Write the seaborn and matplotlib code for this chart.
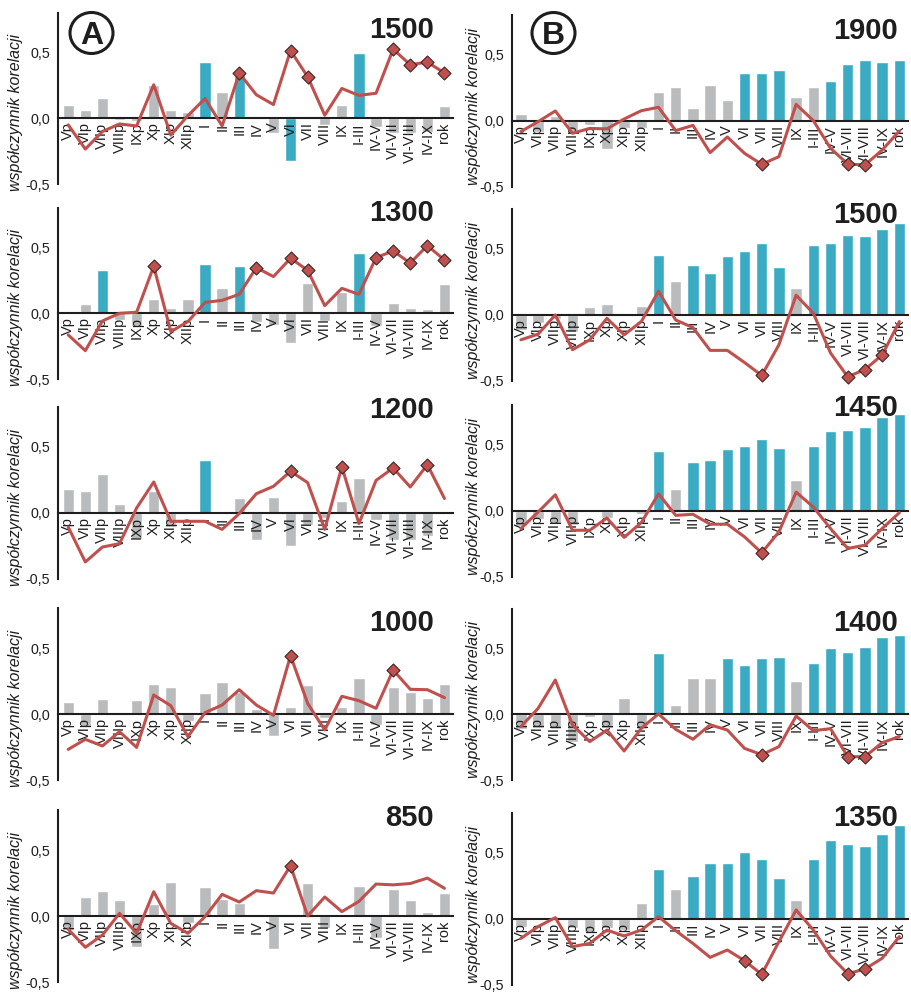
import numpy as np
import pandas as pd
import matplotlib
matplotlib.use("Agg")
import matplotlib.pyplot as plt
import seaborn as sns
from matplotlib.patches import Ellipse

sns.set_style("white")
plt.rcParams['font.family'] = ['Liberation Sans', 'DejaVu Sans']

categories = ["Vp", "VIp", "VIIp", "VIIIp", "IXp", "Xp", "XIp", "XIIp", "I", "II", "III",
              "IV", "V", "VI", "VII", "VIII", "IX", "I-III", "IV-V", "VI-VII", "VI-VIII",
              "IV-IX", "rok"]

# ---------------- column A ----------------
titles_A = ["1500", "1300", "1200", "1000", "850"]

bars_A1500 = [0.10, 0.063, 0.157, -0.01, -0.02, 0.254, 0.063, 0.05, 0.43, 0.203, 0.34,
              0.013, -0.114, -0.322, 0.02, -0.05, 0.10, 0.495, -0.063, -0.11, -0.11, -0.105, 0.094]
line_A1500 = [-0.05, -0.233, -0.10, -0.043, -0.058, 0.254, -0.127, 0.02, 0.15, -0.058, 0.343,
              0.178, 0.104, 0.513, 0.315, 0.023, 0.226, 0.173, 0.19, 0.523, 0.406, 0.426, 0.343]
sigbar_A1500 = ["I", "III", "VI", "I-III"]
sigline_A1500 = ["III", "VI", "VII", "VI-VII", "VI-VIII", "IV-IX", "rok"]

bars_A1300 = [0.0, 0.07, 0.331, -0.05, -0.096, 0.111, 0.04, 0.111, 0.371, 0.192, 0.361,
              -0.063, -0.088, -0.222, 0.227, -0.058, 0.159, 0.46, -0.10, 0.081, 0.04, 0.033, 0.22]
line_A1300 = [-0.164, -0.283, -0.058, 0.0, 0.008, 0.356, -0.139, -0.063, 0.083, 0.098, 0.144,
              0.346, 0.278, 0.417, 0.326, 0.058, 0.189, 0.144, 0.422, 0.472, 0.381, 0.513, 0.404]
sigbar_A1300 = ["VIIp", "I", "III", "I-III"]
sigline_A1300 = ["Xp", "IV", "VI", "VII", "IV-V", "VI-VII", "VI-VIII", "IV-IX", "rok"]

bars_A1200 = [0.179, 0.164, 0.295, 0.071, -0.20, 0.169, -0.106, 0.0, 0.40, 0.0, 0.111,
              -0.207, 0.119, -0.253, -0.093, -0.04, 0.088, 0.265, -0.056, -0.207, -0.207, -0.174, 0.0]
line_A1200 = [-0.106, -0.371, -0.258, -0.232, 0.038, 0.235, -0.063, -0.063, -0.063, -0.124, -0.005,
              0.146, 0.202, 0.316, 0.23, -0.124, 0.351, -0.08, 0.247, 0.341, 0.197, 0.366, 0.11]
sigbar_A1200 = ["I"]
sigline_A1200 = ["VI", "IX", "VI-VII", "IV-IX"]

bars_A1000 = [0.093, -0.096, 0.114, 0.013, 0.106, 0.23, 0.205, -0.05, 0.162, 0.24, 0.17,
              0.04, -0.164, 0.05, 0.217, -0.033, 0.053, 0.27, -0.083, 0.205, 0.167, 0.121, 0.225]
line_A1000 = [-0.268, -0.192, -0.242, -0.134, -0.253, 0.144, 0.063, -0.172, 0.01, 0.068, 0.184,
              0.068, -0.01, 0.442, 0.081, -0.121, 0.134, 0.101, 0.043, 0.333, 0.187, 0.184, 0.124]
sigbar_A1000 = []
sigline_A1000 = ["VI", "VI-VII"]

bars_A850 = [-0.106, 0.146, 0.187, 0.121, -0.232, 0.09, 0.258, -0.05, 0.217, 0.13, 0.096,
             0.0, -0.25, 0.0, 0.25, -0.088, 0.015, 0.227, -0.169, 0.205, 0.121, 0.03, 0.172]
line_A850 = [-0.10, -0.237, -0.144, 0.02, -0.131, 0.184, -0.056, -0.131, -0.005, 0.164, 0.106,
             0.192, 0.174, 0.381, 0.0, 0.144, 0.033, 0.111, 0.242, 0.236, 0.246, 0.287, 0.21]
sigbar_A850 = []
sigline_A850 = ["VI"]

# ---------------- column B ----------------
titles_B = ["1900", "1500", "1450", "1400", "1350"]

bars_B1900 = [0.05, -0.08, 0.04, -0.093, -0.03, -0.212, -0.056, -0.05, 0.222, 0.26, 0.096,
              0.27, 0.159, 0.366, 0.361, 0.386, 0.182, 0.255, 0.306, 0.432, 0.462, 0.447, 0.462]
line_B1900 = [-0.08, -0.005, 0.076, -0.093, -0.056, -0.06, 0.015, 0.078, 0.104, -0.073, -0.033,
              -0.24, -0.121, -0.245, -0.328, -0.27, 0.126, 0.003, -0.207, -0.326, -0.333, -0.22, -0.076]
sigbar_B1900 = ["VI", "VII", "VIII", "IV-V", "VI-VII", "VI-VIII", "IV-IX", "rok"]
sigline_B1900 = ["VII", "VI-VII", "VI-VIII"]

bars_B1500 = [-0.113, -0.063, -0.03, -0.125, 0.06, 0.085, 0.0, 0.07, 0.455, 0.255, 0.38,
              0.315, 0.45, 0.485, 0.545, 0.363, 0.205, 0.53, 0.543, 0.608, 0.598, 0.65, 0.70]
line_B1500 = [-0.188, -0.145, 0.0, -0.263, -0.188, -0.025, -0.15, -0.05, 0.18, -0.038, -0.095,
              -0.268, -0.268, -0.36, -0.458, -0.225, 0.15, 0.013, -0.288, -0.468, -0.413, -0.303, -0.05]
sigbar_B1500 = ["I", "III", "IV", "V", "VI", "VII", "VIII", "I-III", "IV-V", "VI-VII",
                "VI-VIII", "IV-IX", "rok"]
sigline_B1500 = ["VII", "VI-VII", "VI-VIII", "IV-IX"]

bars_B1450 = [-0.116, -0.058, -0.095, -0.108, 0.0, -0.05, 0.018, -0.02, 0.452, 0.168, 0.369,
              0.389, 0.47, 0.495, 0.543, 0.48, 0.234, 0.49, 0.608, 0.61, 0.638, 0.711, 0.734]
line_B1450 = [-0.133, -0.008, 0.123, -0.146, -0.146, -0.053, -0.20, -0.088, 0.13, -0.033, -0.025,
              -0.10, -0.10, -0.196, -0.317, -0.158, 0.143, 0.03, -0.133, -0.284, -0.259, -0.133, -0.013]
sigbar_B1450 = ["I", "III", "IV", "V", "VI", "VII", "VIII", "I-III", "IV-V", "VI-VII",
                "VI-VIII", "IV-IX", "rok"]
sigline_B1450 = ["VII"]

bars_B1400 = [-0.114, -0.106, -0.114, -0.207, -0.02, -0.106, 0.124, -0.114, 0.467, 0.071, 0.273,
              0.278, 0.427, 0.374, 0.429, 0.437, 0.255, 0.391, 0.50, 0.475, 0.513, 0.588, 0.60]
line_B1400 = [-0.093, 0.045, 0.26, -0.08, -0.207, -0.119, -0.278, -0.106, 0.003, -0.114, -0.189,
              -0.08, -0.119, -0.258, -0.306, -0.245, -0.013, -0.124, -0.109, -0.321, -0.321, -0.215, -0.169]
sigbar_B1400 = ["I", "V", "VI", "VII", "VIII", "I-III", "IV-V", "VI-VII", "VI-VIII", "IV-IX", "rok"]
sigline_B1400 = ["VII", "VI-VII", "VI-VIII"]

bars_B1350 = [-0.06, 0.008, 0.0, -0.068, -0.098, -0.068, -0.086, 0.121, 0.379, 0.222, 0.326,
              0.419, 0.419, 0.508, 0.452, 0.308, 0.141, 0.449, 0.593, 0.568, 0.548, 0.639, 0.707]
line_B1350 = [-0.149, -0.06, 0.008, -0.212, -0.187, -0.086, -0.131, -0.086, 0.015, -0.091, -0.187,
              -0.293, -0.237, -0.318, -0.422, -0.174, 0.066, -0.086, -0.283, -0.417, -0.381, -0.30, -0.136]
sigbar_B1350 = ["I", "III", "IV", "V", "VI", "VII", "VIII", "I-III", "IV-V", "VI-VII",
                "VI-VIII", "IV-IX", "rok"]
sigline_B1350 = ["VI", "VII", "VI-VII", "VI-VIII"]

panels_A = [(bars_A1500, line_A1500, sigbar_A1500, sigline_A1500),
            (bars_A1300, line_A1300, sigbar_A1300, sigline_A1300),
            (bars_A1200, line_A1200, sigbar_A1200, sigline_A1200),
            (bars_A1000, line_A1000, sigbar_A1000, sigline_A1000),
            (bars_A850, line_A850, sigbar_A850, sigline_A850)]
panels_B = [(bars_B1900, line_B1900, sigbar_B1900, sigline_B1900),
            (bars_B1500, line_B1500, sigbar_B1500, sigline_B1500),
            (bars_B1450, line_B1450, sigbar_B1450, sigline_B1450),
            (bars_B1400, line_B1400, sigbar_B1400, sigline_B1400),
            (bars_B1350, line_B1350, sigbar_B1350, sigline_B1350)]

# ---------------- style ----------------
TEAL = "#3aabc3"
GRAY = "#b9bbbc"
RED = "#c0504d"
INK = "#1e1e1e"

W, H = 911, 992
fig = plt.figure(figsize=(W / 100, H / 100), dpi=100)
S = 132.0  # px per unit of correlation

cols = [
    dict(left=58.3, width=394.7, xlim=(-0.58, 22.37), zeros=[118.3, 313.3, 513, 714, 916],
         panels=panels_A, titles=titles_A, title_x=434, title_top=[16, 199, 396, 609, 804],
         ylab_x=-0.089, ylab_y=0.418),
    dict(left=512.3, width=396.0, xlim=(-0.49, 22.52), zeros=[121, 315, 511, 714.3, 918.7],
         panels=panels_B, titles=titles_B, title_x=898, title_top=[17, 201, 394, 609, 804],
         ylab_x=-0.078, ylab_y=0.47),
]

pos = np.arange(len(categories))

for col in cols:
    for r in range(5):
        zero = col["zeros"][r]
        bottom_px = zero + 0.5 * S
        ax = fig.add_axes([col["left"] / W, 1 - bottom_px / H, col["width"] / W, 1.3 * S / H])
        bars, line, sigbar, sigline = col["panels"][r]
        df = pd.DataFrame({
            "cat": categories,
            "val": bars,
            "sig": ["s" if c in sigbar else "n" for c in categories],
        })
        sns.barplot(data=df, x="cat", y="val", hue="sig", order=categories,
                    hue_order=["n", "s"], palette={"n": GRAY, "s": TEAL},
                    dodge=False, width=0.66, saturation=1, legend=False, ax=ax,
                    errorbar=None, zorder=1)
        ldf = pd.DataFrame({"x": pos, "y": line})
        sns.lineplot(data=ldf, x="x", y="y", sort=False, color=RED, lw=2.2, ax=ax,
                     zorder=4, clip_on=False)
        mdf = ldf[[c in sigline for c in categories]]
        sns.scatterplot(data=mdf, x="x", y="y", marker="D", s=44, color=RED,
                        edgecolor="#3a2727", linewidth=0.8, ax=ax, zorder=5,
                        clip_on=False, legend=False)

        ax.set_axisbelow(False)
        ax.set_xlim(*col["xlim"])
        ax.set_ylim(-0.5, 0.8)
        for sp in ["top", "right"]:
            ax.spines[sp].set_visible(False)
        ax.spines["bottom"].set_position(("data", 0))
        ax.spines["bottom"].set_linewidth(1.5)
        ax.spines["bottom"].set_color(INK)
        ax.spines["left"].set_linewidth(1.5)
        ax.spines["left"].set_color(INK)
        ax.spines["left"].set_bounds(-0.5, 0.8)

        ax.set_xticks(pos)
        ax.set_xticklabels(categories, rotation=90, fontsize=10.5, color=INK)
        ax.tick_params(axis="x", which="major", length=0, pad=3)
        ax.set_xticks(np.arange(-0.5, len(categories), 1.0), minor=True)
        ax.tick_params(axis="x", which="minor", length=3.5, width=1.2, color=INK, direction="out")

        ax.set_yticks([-0.5, 0.0, 0.5])
        ax.set_yticklabels(["-0,5", "0,0", "0,5"], fontsize=10.3, color=INK)
        ax.tick_params(axis="y", length=3, width=1.5, color=INK, pad=3)

        ax.set_xlabel("")
        ax.set_ylabel("współczynnik korelacji", fontstyle="italic", fontsize=11.5, color=INK)
        ax.yaxis.set_label_coords(col["ylab_x"], col["ylab_y"])
        ax.patch.set_alpha(0)

        fig.text(col["title_x"] / W, 1 - col["title_top"][r] / H, col["titles"][r],
                 ha="right", va="top", fontsize=21, fontweight="bold", color=INK)

# circled panel letters
for letter, cx in [("A", 91.5), ("B", 553.5)]:
    cy = 33
    e = Ellipse((cx / W, 1 - cy / H), 43 / W, 41 / H, transform=fig.transFigure,
                fill=False, ec=INK, lw=2.2)
    fig.add_artist(e)
    fig.text(cx / W, 1 - cy / H, letter, ha="center", va="center_baseline",
             fontsize=23, fontweight="bold", color=INK)

fig.savefig("out.png", dpi=100)
